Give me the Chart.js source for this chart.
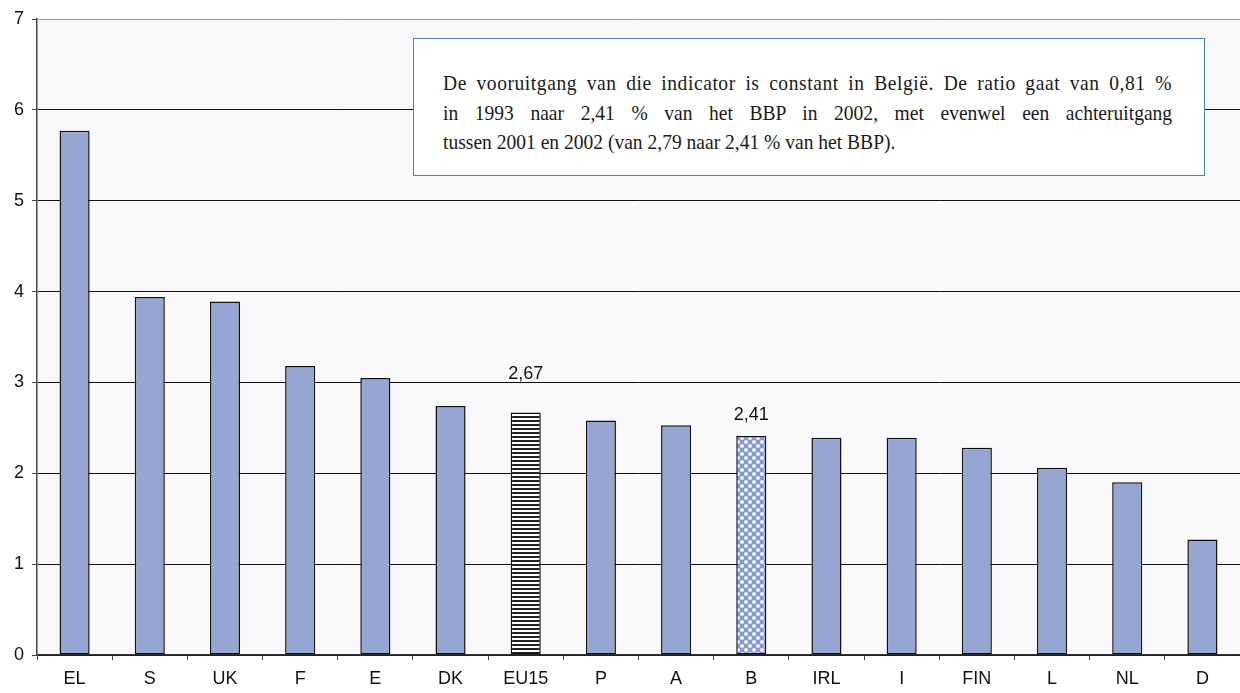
<!DOCTYPE html>
<html>
<head>
<meta charset="utf-8">
<script src="https://cdn.jsdelivr.net/npm/chart.js@4/dist/chart.umd.min.js"></script>
<style>
  html, body { margin: 0; padding: 0; background: #fff; }
  #wrap { position: relative; width: 1240px; height: 693px; }
  #note {
    position: absolute; left: 413px; top: 38px; width: 792px; height: 138px;
    background: #fff; border: 1.5px solid #4f7fc0; box-sizing: border-box;
    padding: 30px 0 0 29px; overflow: hidden;
    font-family: "Liberation Serif", "Times New Roman", serif; font-size: 21px;
    line-height: 29.5px; color: #1a1a1a;
  }
  /* slightly condensed serif, lines justified to 729px */
  #note .ln {
    width: 784px; transform: scaleX(0.93); transform-origin: 0 0;
    text-align: justify; text-align-last: justify; white-space: nowrap;
  }
  #note .ln.first { letter-spacing: 0.6px; }
  #note .ln.last { text-align-last: left; }
</style>
</head>
<body>
<div id="wrap">
  <canvas id="chart" width="1240" height="693"></canvas>
  <div id="note">
    <div class="ln first">De vooruitgang van die indicator is constant in België. De ratio gaat van 0,81 %</div>
    <div class="ln">in 1993 naar 2,41 % van het BBP in 2002, met evenwel een achteruitgang</div>
    <div class="ln last">tussen 2001 en 2002 (van 2,79 naar 2,41 % van het BBP).</div>
  </div>
</div>
<script>
const countries = ['EL', 'S', 'UK', 'F', 'E', 'DK', 'EU15', 'P', 'A', 'B', 'IRL', 'I', 'FIN', 'L', 'NL', 'D'];
const ratios = [5.77, 3.94, 3.89, 3.18, 3.05, 2.74, 2.67, 2.58, 2.53, 2.41, 2.39, 2.39, 2.28, 2.06, 1.90, 1.27];
const yTicks = [0, 1, 2, 3, 4, 5, 6, 7];
const labelled = ['EU15', 'B'];

const BAR_BLUE = '#95a6d2';
const SANS = "'Liberation Sans', Arial, sans-serif";

// horizontal black/white stripes
function stripePattern() {
  const c = document.createElement('canvas');
  c.width = 4; c.height = 4;
  const g = c.getContext('2d');
  g.fillStyle = '#fff'; g.fillRect(0, 0, 4, 4);
  g.fillStyle = '#222'; g.fillRect(0, 0, 4, 2);
  return g.createPattern(c, 'repeat');
}

// blue ground with white dots on alternate cells
function dotPattern() {
  const c = document.createElement('canvas');
  c.width = 8; c.height = 8;
  const g = c.getContext('2d');
  g.fillStyle = '#8499d6'; g.fillRect(0, 0, 8, 8);
  g.fillStyle = '#f4f6fc';
  g.beginPath(); g.arc(2, 2, 2, 0, Math.PI * 2); g.fill();
  g.beginPath(); g.arc(6, 6, 2, 0, Math.PI * 2); g.fill();
  return g.createPattern(c, 'repeat');
}

const ctx = document.getElementById('chart').getContext('2d');
const stripes = stripePattern();
const dots = dotPattern();
const fills = countries.map(c => c === 'EU15' ? stripes : c === 'B' ? dots : BAR_BLUE);

const plotBg = {
  id: 'plotBg',
  beforeDraw(chart) {
    const a = chart.chartArea, g = chart.ctx;
    g.save();
    g.fillStyle = '#f9f9fb';
    g.fillRect(a.left, a.top, a.right - a.left, a.bottom - a.top);
    g.restore();
  }
};

const valueLabels = {
  id: 'valueLabels',
  afterDatasetsDraw(chart, args, opts) {
    const g = chart.ctx;
    const meta = chart.getDatasetMeta(0);
    g.save();
    g.font = '18px ' + SANS;
    g.fillStyle = '#111';
    g.textAlign = 'center';
    g.textBaseline = 'middle';
    countries.forEach((c, i) => {
      if (!labelled.includes(c)) return;
      const bar = meta.data[i];
      const off = opts.offsets[c] || 20;
      g.fillText(ratios[i].toFixed(2).replace('.', ','), bar.x, bar.y - off);
    });
    g.restore();
  }
};

new Chart(ctx, {
  type: 'bar',
  data: {
    labels: countries,
    datasets: [{
      data: ratios,
      backgroundColor: fills,
      borderColor: '#111',
      borderWidth: 1.5,
      borderSkipped: false,
      categoryPercentage: 1,
      barPercentage: 0.4
    }]
  },
  options: {
    responsive: false,
    animation: false,
    events: [],
    layout: { padding: { top: 19, right: 0, left: 0, bottom: 0 } },
    plugins: {
      legend: { display: false },
      tooltip: { enabled: false },
      valueLabels: { offsets: { EU15: 38, B: 21 } }
    },
    scales: {
      x: {
        grid: { offset: true, drawOnChartArea: false, tickLength: 5, color: '#444', lineWidth: 1 },
        border: { color: '#333', width: 1.5 },
        ticks: {
          color: '#111', padding: 8,
          font: { family: SANS, size: 18 }
        },
        afterFit(scale) { scale.height = 38; }
      },
      y: {
        min: 0, max: 7,
        afterBuildTicks(scale) { scale.ticks = yTicks.map(v => ({ value: v })); },
        grid: {
          tickLength: 5,
          color: c => c.tick && c.tick.value === 7 ? '#9a9a9a' : '#111',
          tickColor: '#444',
          lineWidth: 1
        },
        border: { color: '#444', width: 1.5 },
        ticks: {
          color: '#111', padding: 8,
          font: { family: SANS, size: 18 }
        },
        afterFit(scale) { scale.width = 37; }
      }
    }
  },
  plugins: [plotBg, valueLabels]
});
</script>
</body>
</html>
